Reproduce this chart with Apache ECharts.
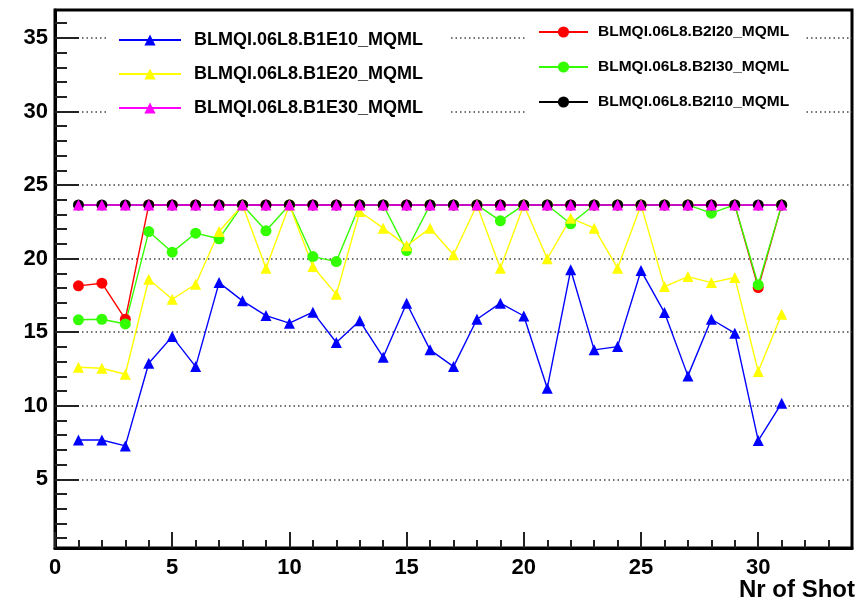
<!DOCTYPE html>
<html>
<head>
<meta charset="utf-8">
<script src="https://cdn.jsdelivr.net/npm/echarts@6/dist/echarts.min.js"></script>
<style>
  html, body { margin: 0; padding: 0; background: #fff; }
  #chart { width: 859px; height: 607px; }
</style>
</head>
<body>
<div id="chart"></div>
<script>
// Shot numbers
const shots = [1, 2, 3, 4, 5, 6, 7, 8, 9, 10, 11, 12, 13, 14, 15, 16, 17, 18, 19, 20,
               21, 22, 23, 24, 25, 26, 27, 28, 29, 30, 31];

// Monitor readings per shot
const b1e10 = [7.67, 7.67, 7.27, 12.89, 14.7, 12.66, 18.37, 17.13, 16.13, 15.61, 16.36, 14.3, 15.77, 13.3, 16.97, 13.8,
               12.66, 15.88, 16.97, 16.1, 11.19, 19.24, 13.8, 14.02, 19.19, 16.33, 12.03, 15.88, 14.93, 7.63, 10.17];
const b1e20 = [12.62, 12.55, 12.14, 18.6, 17.24, 18.26, 21.84, 23.65, 19.35, 23.65, 19.46, 17.57, 23.2, 22.07, 20.87, 22.07,
               20.26, 23.65, 19.35, 23.65, 19.99, 22.75, 22.07, 19.35, 23.65, 18.1, 18.78, 18.37, 18.72, 12.32, 16.22];
const b1e30 = [23.65, 23.65, 23.65, 23.65, 23.65, 23.65, 23.65, 23.65, 23.65, 23.65, 23.65, 23.65, 23.65, 23.65, 23.65, 23.65,
               23.65, 23.65, 23.65, 23.65, 23.65, 23.65, 23.65, 23.65, 23.65, 23.65, 23.65, 23.65, 23.65, 23.65, 23.65];
const b2i20 = [18.15, 18.33, 15.88, 23.65, 23.65, 23.65, 23.65, 23.65, 23.65, 23.65, 23.65, 23.65, 23.65, 23.65, 23.65, 23.65,
               23.65, 23.65, 23.65, 23.65, 23.65, 23.65, 23.65, 23.65, 23.65, 23.65, 23.65, 23.65, 23.65, 18.03, 23.65];
const b2i30 = [15.84, 15.88, 15.56, 21.84, 20.44, 21.73, 21.35, 23.65, 21.89, 23.65, 20.14, 19.8, 23.65, 23.65, 20.55, 23.65,
               23.65, 23.65, 22.57, 23.65, 23.65, 22.37, 23.65, 23.65, 23.65, 23.65, 23.65, 23.09, 23.65, 18.22, 23.65];
const b2i10 = [23.65, 23.65, 23.65, 23.65, 23.65, 23.65, 23.65, 23.65, 23.65, 23.65, 23.65, 23.65, 23.65, 23.65, 23.65, 23.65,
               23.65, 23.65, 23.65, 23.65, 23.65, 23.65, 23.65, 23.65, 23.65, 23.65, 23.65, 23.65, 23.65, 23.65, 23.65];

// Axis ticks
const xMajorTicks = [0, 5, 10, 15, 20, 25, 30];
const xMinorTicks = [1, 2, 3, 4, 6, 7, 8, 9, 11, 12, 13, 14, 16, 17, 18, 19, 21, 22, 23, 24, 26, 27, 28, 29, 31, 32, 33];
const yMajorTicks = [5, 10, 15, 20, 25, 30, 35];
const yMinorTicks = [1, 2, 3, 4, 6, 7, 8, 9, 11, 12, 13, 14, 16, 17, 18, 19, 21, 22, 23, 24, 26, 27, 28, 29, 31, 32, 33, 34, 36];

const xRange = [0, 34];
const yRange = [0.33, 36.9];
const xTitle = 'Nr of Shot';

const names = {
  b1e10: 'BLMQI.06L8.B1E10_MQML',
  b1e20: 'BLMQI.06L8.B1E20_MQML',
  b1e30: 'BLMQI.06L8.B1E30_MQML',
  b2i20: 'BLMQI.06L8.B2I20_MQML',
  b2i30: 'BLMQI.06L8.B2I30_MQML',
  b2i10: 'BLMQI.06L8.B2I10_MQML'
};

const FONT = 'Liberation Sans, Arial, Helvetica, sans-serif';

function pairs(values) {
  return shots.map((s, i) => [s, values[i]]);
}

function lineSeries(name, values, color, symbol) {
  return {
    name: name,
    type: 'line',
    data: pairs(values),
    symbol: symbol,
    symbolSize: 11,
    showSymbol: true,
    animation: false,
    lineStyle: { color: color, width: 1.4 },
    itemStyle: { color: color, borderWidth: 0 },
    emphasis: { disabled: true }
  };
}

const chart = echarts.init(document.getElementById('chart'), null, { renderer: 'canvas' });

const tickStyle = { color: '#222', width: 2 };

chart.setOption({
  backgroundColor: '#ffffff',
  animation: false,
  title: {
    text: xTitle,
    right: 4,
    top: 578,
    padding: 0,
    textStyle: { fontFamily: FONT, fontWeight: 'bold', fontSize: 24, color: '#000' }
  },
  grid: {
    left: 55, top: 10, width: 797, height: 538,
    show: true, borderColor: '#000', borderWidth: 3, backgroundColor: '#fff'
  },
  legend: [
    {
      data: [names.b1e10, names.b1e20, names.b1e30],
      orient: 'vertical',
      left: 107, top: 20,
      padding: [11, 27, 8, 11],
      backgroundColor: '#fff',
      itemWidth: 62, itemHeight: 14, itemGap: 16,
      selectedMode: false,
      textStyle: { fontFamily: FONT, fontWeight: 'bold', fontSize: 18, lineHeight: 18, color: '#000', padding: [0, 0, 0, 8] }
    },
    {
      data: [names.b2i20, names.b2i30, names.b2i10],
      orient: 'vertical',
      left: 527, top: 14,
      padding: [10, 15, 12, 11],
      backgroundColor: '#fff',
      itemWidth: 49, itemHeight: 14, itemGap: 19,
      selectedMode: false,
      textStyle: { fontFamily: FONT, fontWeight: 'bold', fontSize: 15.5, lineHeight: 16, color: '#000', padding: [0, 0, 0, 5] }
    }
  ],
  xAxis: [
    {
      type: 'value', min: xRange[0], max: xRange[1], position: 'bottom',
      axisLine: { show: true, onZero: false, lineStyle: { color: '#000', width: 3 } },
      axisTick: { show: true, inside: true, length: 16, customValues: xMajorTicks, lineStyle: tickStyle },
      axisLabel: {
        show: true, customValues: xMajorTicks, margin: 9,
        fontFamily: FONT, fontWeight: 'bold', fontSize: 22, color: '#000'
      },
      splitLine: { show: false }
    },
    {
      type: 'value', min: xRange[0], max: xRange[1], position: 'bottom',
      axisLine: { show: false },
      axisTick: { show: true, inside: true, length: 8, customValues: xMinorTicks, lineStyle: tickStyle },
      axisLabel: { show: false },
      splitLine: { show: false }
    }
  ],
  yAxis: [
    {
      type: 'value', min: yRange[0], max: yRange[1], position: 'left',
      axisLine: { show: true, onZero: false, lineStyle: { color: '#000', width: 3 } },
      axisTick: { show: true, inside: true, length: 24, customValues: yMajorTicks, lineStyle: tickStyle },
      axisLabel: {
        show: true, customValues: yMajorTicks, margin: 7,
        fontFamily: FONT, fontWeight: 'bold', fontSize: 22, color: '#000'
      },
      splitLine: { show: true, lineStyle: { color: '#444', width: 1.5, type: [1.5, 3] } }
    },
    {
      type: 'value', min: yRange[0], max: yRange[1], position: 'left',
      axisLine: { show: false },
      axisTick: { show: true, inside: true, length: 12, customValues: yMinorTicks, lineStyle: tickStyle },
      axisLabel: { show: false },
      splitLine: { show: false }
    }
  ],
  series: [
    lineSeries(names.b2i20, b2i20, '#ff0000', 'circle'),
    lineSeries(names.b2i30, b2i30, '#33ff00', 'circle'),
    lineSeries(names.b2i10, b2i10, '#000000', 'circle'),
    lineSeries(names.b1e10, b1e10, '#0000ff', 'triangle'),
    lineSeries(names.b1e20, b1e20, '#ffff00', 'triangle'),
    lineSeries(names.b1e30, b1e30, '#ff00ff', 'triangle')
  ]
});
</script>
</body>
</html>
